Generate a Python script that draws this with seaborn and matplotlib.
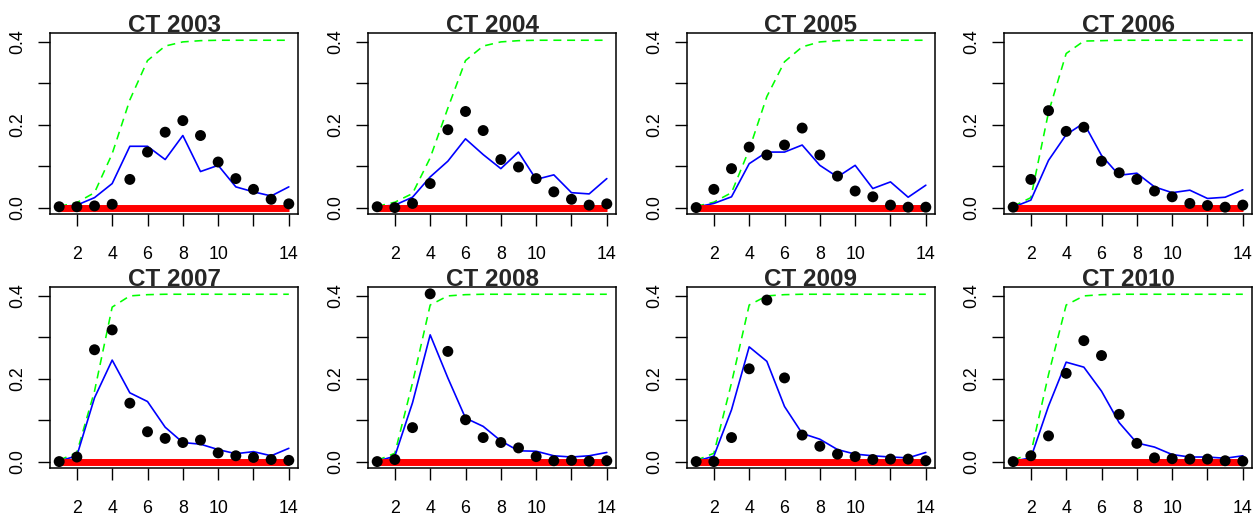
import numpy as np
import pandas as pd
import matplotlib
matplotlib.use("Agg")
import matplotlib.pyplot as plt
import seaborn as sns

# ---------------- data ----------------
ages = list(range(1, 15))
years = [2003, 2004, 2005, 2006, 2007, 2008, 2009, 2010]

obs_2003 = [0.002, 0.002, 0.004, 0.008, 0.068, 0.134, 0.182, 0.210, 0.174, 0.110, 0.070, 0.044, 0.020, 0.009]
obs_2004 = [0.002, 0.000, 0.010, 0.058, 0.188, 0.232, 0.186, 0.116, 0.098, 0.070, 0.038, 0.020, 0.006, 0.009]
obs_2005 = [0.000, 0.044, 0.094, 0.146, 0.127, 0.151, 0.192, 0.127, 0.076, 0.040, 0.026, 0.006, 0.001, 0.001]
obs_2006 = [0.001, 0.068, 0.234, 0.184, 0.194, 0.112, 0.084, 0.068, 0.040, 0.026, 0.010, 0.005, 0.001, 0.006]
obs_2007 = [0.000, 0.011, 0.270, 0.318, 0.141, 0.072, 0.056, 0.046, 0.052, 0.021, 0.014, 0.010, 0.005, 0.003]
obs_2008 = [0.000, 0.005, 0.082, 0.405, 0.266, 0.101, 0.058, 0.046, 0.033, 0.012, 0.002, 0.003, 0.001, 0.002]
obs_2009 = [0.000, 0.000, 0.058, 0.224, 0.390, 0.202, 0.064, 0.037, 0.018, 0.012, 0.005, 0.006, 0.006, 0.002]
obs_2010 = [0.000, 0.014, 0.062, 0.213, 0.292, 0.256, 0.114, 0.044, 0.009, 0.007, 0.006, 0.006, 0.002, 0.001]

fit_2003 = [0.002, 0.006, 0.024, 0.058, 0.148, 0.148, 0.116, 0.174, 0.087, 0.102, 0.050, 0.038, 0.028, 0.050]
fit_2004 = [0.002, 0.006, 0.025, 0.074, 0.112, 0.166, 0.128, 0.094, 0.134, 0.068, 0.079, 0.036, 0.033, 0.070]
fit_2005 = [0.001, 0.010, 0.026, 0.106, 0.134, 0.134, 0.151, 0.102, 0.074, 0.102, 0.046, 0.062, 0.025, 0.054]
fit_2006 = [0.001, 0.018, 0.114, 0.176, 0.204, 0.126, 0.078, 0.083, 0.050, 0.036, 0.042, 0.022, 0.025, 0.043]
fit_2007 = [0.001, 0.014, 0.154, 0.245, 0.166, 0.145, 0.083, 0.046, 0.042, 0.029, 0.019, 0.024, 0.014, 0.032]
fit_2008 = [0.001, 0.013, 0.142, 0.306, 0.202, 0.105, 0.085, 0.050, 0.026, 0.025, 0.014, 0.011, 0.014, 0.022]
fit_2009 = [0.001, 0.013, 0.125, 0.277, 0.242, 0.133, 0.068, 0.054, 0.029, 0.018, 0.014, 0.011, 0.009, 0.022]
fit_2010 = [0.001, 0.009, 0.134, 0.240, 0.228, 0.170, 0.094, 0.045, 0.035, 0.017, 0.011, 0.011, 0.008, 0.014]

sel_2003 = [0.003, 0.012, 0.036, 0.130, 0.260, 0.355, 0.390, 0.400, 0.403, 0.404, 0.404, 0.404, 0.404, 0.404]
sel_2004 = [0.003, 0.013, 0.034, 0.120, 0.240, 0.355, 0.390, 0.400, 0.403, 0.404, 0.404, 0.404, 0.404, 0.404]
sel_2005 = [0.003, 0.013, 0.036, 0.140, 0.268, 0.352, 0.388, 0.400, 0.403, 0.404, 0.404, 0.404, 0.404, 0.404]
sel_2006 = [0.003, 0.024, 0.230, 0.372, 0.402, 0.403, 0.404, 0.404, 0.404, 0.404, 0.404, 0.404, 0.404, 0.404]
sel_2007 = [0.003, 0.022, 0.170, 0.373, 0.400, 0.403, 0.404, 0.404, 0.404, 0.404, 0.404, 0.404, 0.404, 0.404]
sel_2008 = [0.003, 0.020, 0.190, 0.378, 0.400, 0.403, 0.404, 0.404, 0.404, 0.404, 0.404, 0.404, 0.404, 0.404]
sel_2009 = [0.003, 0.020, 0.190, 0.378, 0.400, 0.403, 0.404, 0.404, 0.404, 0.404, 0.404, 0.404, 0.404, 0.404]
sel_2010 = [0.003, 0.020, 0.210, 0.378, 0.400, 0.403, 0.404, 0.404, 0.404, 0.404, 0.404, 0.404, 0.404, 0.404]

baseline = [0.0] * 14

x_ticks = [2, 4, 6, 8, 10, 12, 14]
x_tick_labels = ["2", "4", "6", "8", "10", "", "14"]
y_ticks = [0.0, 0.1, 0.2, 0.3, 0.4]
y_tick_labels = ["0.0", "", "0.2", "", "0.4"]

obs_all = [obs_2003, obs_2004, obs_2005, obs_2006, obs_2007, obs_2008, obs_2009, obs_2010]
fit_all = [fit_2003, fit_2004, fit_2005, fit_2006, fit_2007, fit_2008, fit_2009, fit_2010]
sel_all = [sel_2003, sel_2004, sel_2005, sel_2006, sel_2007, sel_2008, sel_2009, sel_2010]

# ---------------- style ----------------
sns.set_style("white")
plt.rcParams["font.family"] = ["Liberation Sans", "DejaVu Sans"]

W, H = 1256, 516
fig = plt.figure(figsize=(W / 100, H / 100), dpi=100)

col_left = [50, 368, 687, 1004]
box_w = 248
row_top = [33, 287]
box_h = 181

for i, yr in enumerate(years):
    r, c = divmod(i, 4)
    left = col_left[c] / W
    bottom = 1 - (row_top[r] + box_h) / H
    ax = fig.add_axes([left, bottom, box_w / W, box_h / H])

    df = pd.DataFrame({"age": ages, "obs": obs_all[i], "fit": fit_all[i],
                       "sel": sel_all[i], "base": baseline})

    sns.lineplot(data=df, x="age", y="sel", ax=ax, color="#00ff00",
                 linewidth=1.15, linestyle=(0, (5.0, 3.6)))
    sns.lineplot(data=df, x="age", y="fit", ax=ax, color="#0000ff", linewidth=1.2)
    sns.lineplot(data=df, x="age", y="base", ax=ax, color="#ff0000",
                 linewidth=5.0, solid_capstyle="butt")
    sns.scatterplot(data=df, x="age", y="obs", ax=ax, color="black",
                    s=62, edgecolor="none", zorder=5)

    ax.set_xlim(0.48, 14.52)
    ax.set_ylim(-0.0155, 0.4215)
    ax.set_xticks(x_ticks)
    ax.set_xticklabels(x_tick_labels)
    ax.set_yticks(y_ticks)
    ax.set_yticklabels(y_tick_labels, rotation=90, va="center")
    ax.set_xlabel("")
    ax.set_ylabel("")
    ax.tick_params(axis="both", direction="out", length=8.5, width=1.0,
                   color="black", labelsize=12.8, labelcolor="black",
                   bottom=True, left=True)
    ax.tick_params(axis="x", pad=14.5)
    ax.tick_params(axis="y", pad=8.5)
    for sp in ax.spines.values():
        sp.set_visible(True)
        sp.set_color("black")
        sp.set_linewidth(1.1)
    ax.grid(False)
    ax.set_facecolor("white")
    ax.set_title(f"CT {yr}", fontsize=17.5, fontweight="bold", pad=0.5)

fig.savefig("out.png", dpi=100, facecolor="white")
